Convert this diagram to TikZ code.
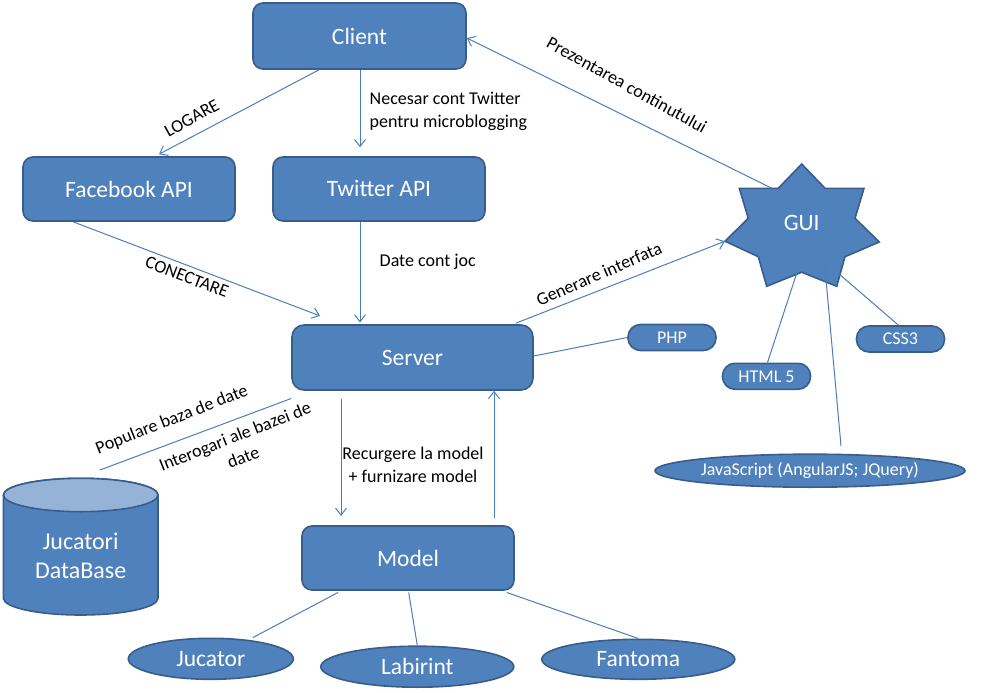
\documentclass[tikz,border=0pt]{standalone}
\usepackage{fontspec}
\setmainfont{Carlito}
\usetikzlibrary{arrows.meta,shapes.geometric}
\definecolor{boxfill}{HTML}{4F81BD}
\definecolor{boxline}{HTML}{385D8A}
\definecolor{dbtopfill}{HTML}{95B3D7}
\definecolor{linkblue}{HTML}{4A7EBB}
\begin{document}
\begin{tikzpicture}[x=1pt,y=-1pt,
  bigbox/.style={draw=boxline, line width=1.6pt, fill=boxfill, rounded corners=10pt, text=white, font=\fontsize{23.5}{28}\selectfont, inner sep=0pt},
  pill/.style={draw=boxline, line width=1.6pt, fill=boxfill, rounded corners=12.5pt, text=white, font=\fontsize{18}{22}\selectfont, minimum width=88pt, minimum height=26pt, inner sep=0pt},
  oval/.style={ellipse, draw=boxline, line width=1.6pt, fill=boxfill, text=white, inner sep=0pt},
  link/.style={draw=linkblue, line width=1pt},
  arr/.style={link, -{Straight Barb[length=7pt,width=11pt]}},
  lbl/.style={font=\fontsize{18}{22.5}\selectfont, inner sep=0pt, text=black},
]
\useasboundingbox (0,0) rectangle (1002,693);

% main boxes
\node[bigbox, minimum width=213pt, minimum height=66pt] (client) at (359.5,36) {Client};
\node[bigbox, minimum width=212pt, minimum height=64pt] (facebook) at (129,189) {Facebook API};
\node[bigbox, minimum width=212pt, minimum height=64pt] (twitter) at (379,189) {Twitter API};
\node[bigbox, minimum width=241pt, minimum height=65pt, rounded corners=12pt] (server) at (412.5,357.5) {Server};
\node[bigbox, minimum width=212pt, minimum height=64pt] (model) at (408,558) {Model};

% pills
\node[pill] (php) at (672,337.5) {PHP};
\node[pill] (html) at (766.5,376.3) {HTML 5};
\node[pill] (css) at (900.5,339) {CSS3};

% ellipses
\node[oval, minimum width=310pt, minimum height=33pt, font=\fontsize{18}{22}\selectfont] (js) at (810,470.7) {JavaScript (AngularJS; JQuery)};
\node[oval, minimum width=165pt, minimum height=41pt, font=\fontsize{23.5}{28}\selectfont] (jucator) at (210.8,658.8) {Jucator};
\node[oval, minimum width=193pt, minimum height=41pt, font=\fontsize{23.5}{28}\selectfont] (labirint) at (417.3,666.7) {Labirint};
\node[oval, minimum width=193pt, minimum height=40pt, font=\fontsize{23.5}{28}\selectfont] (fantoma) at (638.3,659.3) {Fantoma};

% database cylinder
\draw[draw=boxline, line width=1.6pt, fill=boxfill] (3.4,495) -- (3.4,598.3)
  arc[start angle=180, end angle=0, x radius=77.3, y radius=16.7] -- (158,495)
  arc[start angle=0, end angle=-180, x radius=77.3, y radius=16.7] -- cycle;
\draw[draw=boxline, line width=1.6pt, fill=dbtopfill] (80.7,495) ellipse [x radius=77.3, y radius=16.7];
\node[text=white, align=center, font=\fontsize{24}{28.5}\selectfont, inner sep=0pt] (db) at (80.7,555.8) {Jucatori\\DataBase};
\coordinate (dbtop) at (100,470);

% GUI star
\draw[draw=boxline, line width=1.6pt, fill=boxfill]
  (801.7,164) -- (825,188.3) -- (864,188.3) -- (855,218.3) -- (879.3,242) -- (845,256.7)
  -- (836.7,286.3) -- (801.7,272.2) -- (766.7,286.3) -- (758.3,256.7) -- (725,241.2)
  -- (748.3,218.3) -- (739.3,188.3) -- (778.3,188.3) -- cycle;
\node[text=white, font=\fontsize{23.5}{28}\selectfont, inner sep=0pt] (gui) at (801.7,222.7) {GUI};
\coordinate (guiClient) at (772,188.3);
\coordinate (guiIn) at (725,241.2);
\coordinate (guiHtml) at (796.7,273.3);
\coordinate (guiJs) at (825,268.3);
\coordinate (guiCss) at (838.3,273.3);

% connectors
\draw[arr] ([xshift=-40.5pt]client.south) -- ([xshift=30pt,yshift=2pt]facebook.north);
\draw[arr] ([xshift=0.5pt]client.south) -- ([xshift=-19pt,yshift=9pt]twitter.north);
\draw[arr] ([xshift=-56pt]facebook.south) -- ([xshift=-92.5pt,yshift=8.3pt]server.north);
\draw[arr] ([xshift=-19pt]twitter.south) -- ([xshift=-52.5pt,yshift=1.7pt]server.north);
\draw[arr] (guiClient) -- ([yshift=-2pt]client.east);
\draw[arr] ([xshift=-18pt,yshift=1pt]server.north east) -- (guiIn);
\draw[link] ([yshift=1.5pt]server.east) -- (php.west);
\draw[link] (guiHtml) -- ([xshift=1pt]html.north);
\draw[link] (guiCss) -- ([xshift=-2pt]css.north);
\draw[link] (guiJs) -- ([xshift=31pt,yshift=7.5pt]js.north);
\draw[link] (dbtop) -- ([yshift=-7.7pt]server.south west);
\draw[arr] ([xshift=-71.5pt,yshift=-8.3pt]server.south) -- ([xshift=-67pt,yshift=9.3pt]model.north);
\draw[arr] ([xshift=86pt,yshift=7.7pt]model.north) -- ([xshift=81.5pt]server.south);
\draw[link] ([xshift=-70pt,yshift=-1.7pt]model.south) -- ([xshift=42.2pt]jucator.north);
\draw[link] ([xshift=0.7pt,yshift=-1.7pt]model.south) -- (labirint.north);
\draw[link] ([xshift=-8pt,yshift=-1.7pt]model.south east) -- (fantoma.north);

% labels
\node[lbl, rotate=29] (logare) at (191.7,118.3) {LOGARE};
\node[lbl, anchor=west, align=left] (necesar) at (369.5,111.5) {Necesar cont Twitter\\pentru microblogging};
\node[lbl, rotate=-21] (conectare) at (187,277) {CONECTARE};
\node[lbl, anchor=west] (datecont) at (379.5,262) {Date cont joc};
\node[lbl, rotate=-29] (prezentarea) at (627,85) {Prezentarea continutului};
\node[lbl, rotate=23.5] (generare) at (599,274) {Generare interfata};
\node[lbl, rotate=21.5] (populare) at (172,420) {Populare baza de date};
\node[lbl, rotate=21.5, align=center] (interogari) at (239,446.7) {Interogari ale bazei de\\date};
\node[lbl, align=center] (recurgere) at (413,465) {Recurgere la model\\+ furnizare model};
\end{tikzpicture}
\end{document}
